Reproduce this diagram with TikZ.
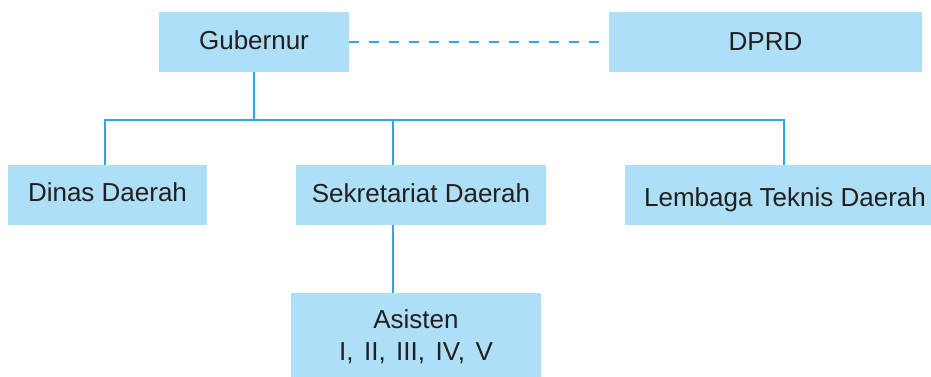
\documentclass[tikz,border=0pt]{standalone}
\usepackage{fontspec}
\setmainfont{Liberation Sans}
\definecolor{boxblue}{HTML}{ADDFF7}
\definecolor{lineblue}{HTML}{29ABE2}
\definecolor{textdark}{HTML}{231F20}
\tikzset{
  orgbox/.style={fill=boxblue, inner sep=0pt, text=textdark, align=center,
    font=\fontsize{26}{32}\selectfont},
  conn/.style={draw=lineblue, line width=2pt},
  dashconn/.style={conn, dash pattern=on 10pt off 10pt}
}
\begin{document}
\begin{tikzpicture}[x=1pt,y=-1pt]
\useasboundingbox (0,0) rectangle (931,377);
\clip (0,0) rectangle (931,377);
\node[orgbox, minimum width=190pt, minimum height=60pt, text height=19pt, text depth=3.8pt] (gub) at (254,42) {Gubernur};
\node[orgbox, minimum width=313pt, minimum height=60pt, text height=19pt, text depth=2.8pt] (dprd) at (765.5,42) {DPRD};
\node[orgbox, minimum width=199pt, minimum height=60pt, text height=19pt, text depth=7pt] (dinas) at (107.5,195) {Dinas Daerah};
\node[orgbox, minimum width=250pt, minimum height=60pt, text height=19pt, text depth=4.4pt] (sek) at (421,195) {Sekretariat Daerah};
\node[orgbox, minimum width=320pt, minimum height=60pt, text height=24pt, text depth=2pt] (lem) at (785,195) {Lembaga Teknis Daerah};
\node[orgbox, minimum width=250pt, minimum height=88pt] (asis) at (416,337) {Asisten\\I,\hspace{10.5pt}II,\hspace{10.5pt}III,\hspace{10.5pt}IV,\hspace{10.5pt}V};
\coordinate (jn) at (254,120);
\coordinate (hl) at (105,120);
\coordinate (hr) at (784,120);
\coordinate (jm) at (393,120);
\draw[dashconn] (gub.east) -- (dprd.west);
\draw[conn] (gub.south) -- (jn);
\draw[conn] (hl |- dinas.north) -- (hl) -- (hr) -- (hr |- lem.north);
\draw[conn] (jm) -- (jm |- sek.north);
\draw[conn] (jm |- sek.south) -- (jm |- asis.north);
\end{tikzpicture}
\end{document}
